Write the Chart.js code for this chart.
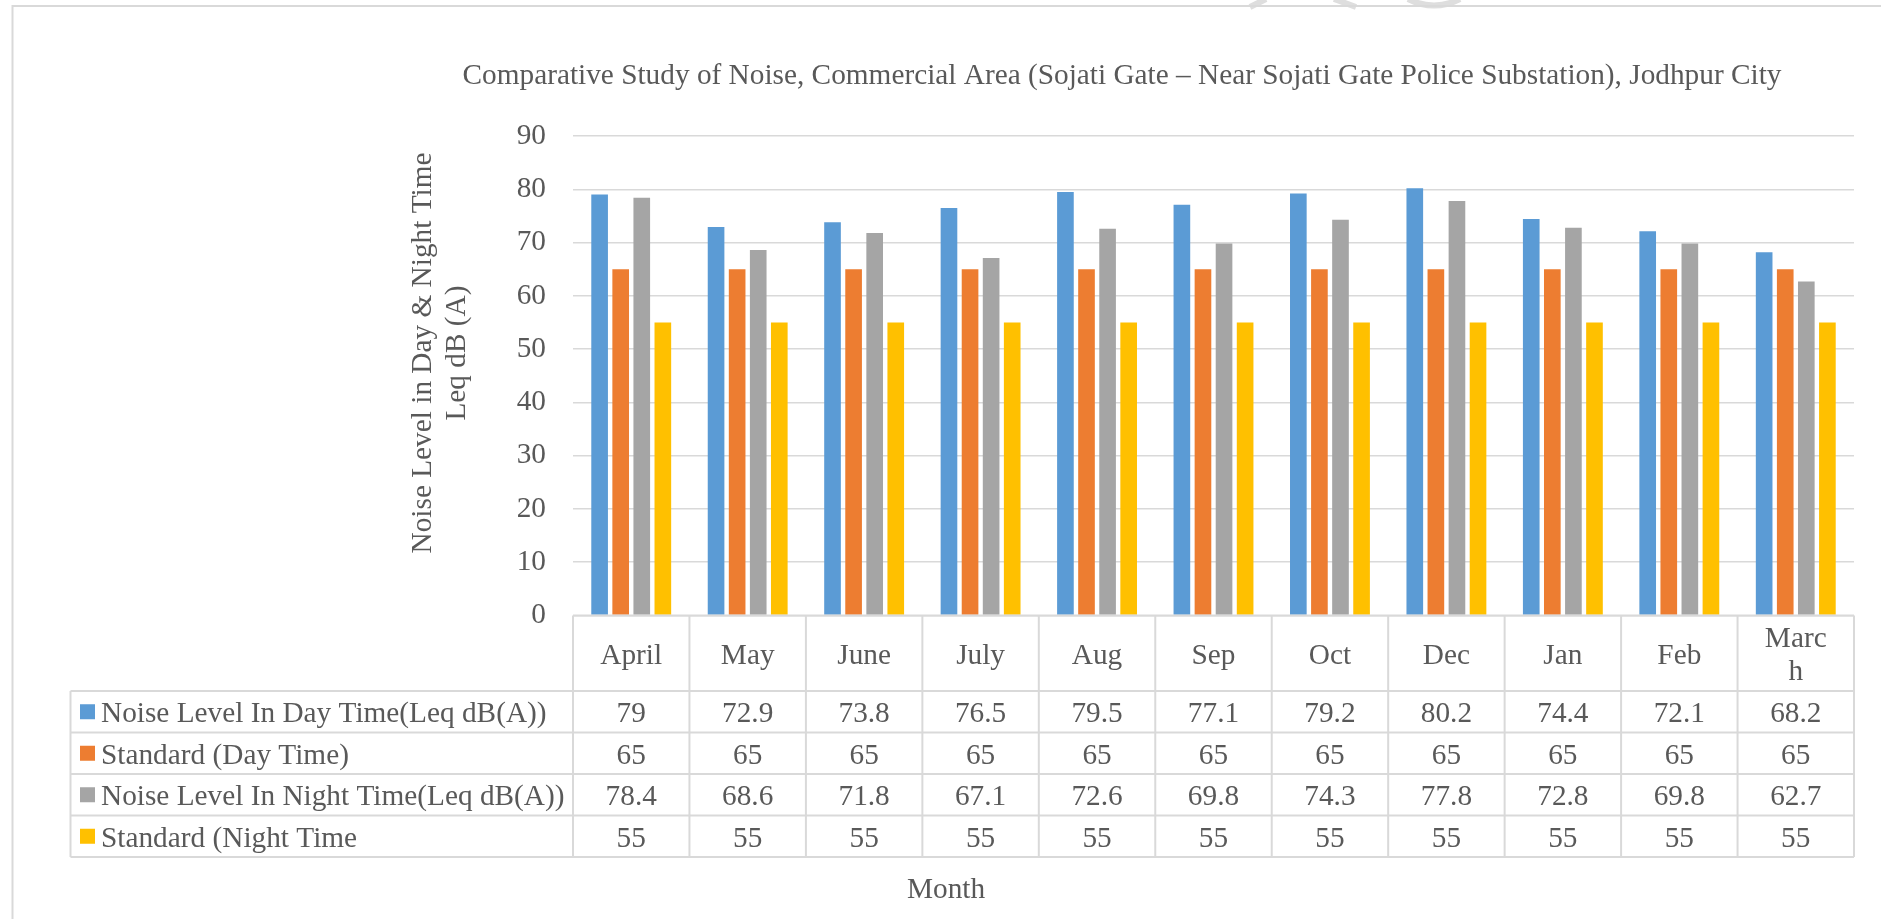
<!DOCTYPE html>
<html>
<head>
<meta charset="utf-8">
<script src="https://cdn.jsdelivr.net/npm/chart.js@4/dist/chart.umd.min.js"></script>
<style>
html,body{margin:0;padding:0;background:#fff;overflow:hidden}
#wrap{position:relative;width:1881px;height:919px}
</style>
</head>
<body>
<div id="wrap"><canvas id="c" width="1881" height="919"></canvas></div>
<script>
// ---- data ----
const months = ['April','May','June','July','Aug','Sep','Oct','Dec','Jan','Feb','March'];
const monthHeaderLines = [['April'],['May'],['June'],['July'],['Aug'],['Sep'],['Oct'],['Dec'],['Jan'],['Feb'],['Marc','h']];
const dayNoise      = [79, 72.9, 73.8, 76.5, 79.5, 77.1, 79.2, 80.2, 74.4, 72.1, 68.2];
const dayStandard   = [65, 65, 65, 65, 65, 65, 65, 65, 65, 65, 65];
const nightNoise    = [78.4, 68.6, 71.8, 67.1, 72.6, 69.8, 74.3, 77.8, 72.8, 69.8, 62.7];
const nightStandard = [55, 55, 55, 55, 55, 55, 55, 55, 55, 55, 55];
const seriesNames = ['Noise Level In Day Time(Leq dB(A))', 'Standard (Day Time)', 'Noise Level In Night Time(Leq dB(A))', 'Standard (Night Time'];
const seriesValues = [dayNoise, dayStandard, nightNoise, nightStandard];
const seriesColors = ['#5B9BD5', '#ED7D31', '#A5A5A5', '#FFC000'];
const yTickValues = [0, 10, 20, 30, 40, 50, 60, 70, 80, 90];
const titleText = 'Comparative Study of Noise, Commercial Area (Sojati Gate \u2013 Near Sojati Gate Police Substation), Jodhpur City';
const yTitleLines = ['Noise Level in Day & Night Time', 'Leq dB (A)'];
const xTitleText = 'Month';

// ---- style ----
const FONT = '"Liberation Serif", "Times New Roman", serif';
const TXT = '#595959';
const GRID = '#d9d9d9';
const FS = 29.3;

const decoPlugin = {
  id: 'deco',
  beforeDraw(chart) {
    const ctx = chart.ctx;
    ctx.save();
    ctx.fillStyle = '#fff';
    ctx.fillRect(0, 0, chart.width, chart.height);
    // faint watermark fragments at top
    ctx.strokeStyle = '#dedede';
    ctx.lineWidth = 6;
    ctx.lineCap = 'butt';
    ctx.beginPath(); ctx.moveTo(1250, 7); ctx.lineTo(1266, -1); ctx.stroke();
    ctx.beginPath(); ctx.moveTo(1334, -1); ctx.lineTo(1356, 7); ctx.stroke();
    ctx.beginPath(); ctx.moveTo(1408, -1); ctx.quadraticCurveTo(1434, 12, 1460, -1); ctx.stroke();
    // outer frame
    ctx.strokeStyle = GRID;
    ctx.lineWidth = 2;
    ctx.beginPath();
    ctx.moveTo(12.5, 919); ctx.lineTo(12.5, 6); ctx.lineTo(1881, 6);
    ctx.stroke();
    ctx.restore();
  },
  afterDraw(chart) {
    const ctx = chart.ctx;
    const xs = chart.scales.x;
    const area = chart.chartArea;
    const n = months.length;
    const step = xs.getPixelForValue(1) - xs.getPixelForValue(0);
    const colLeft = i => xs.getPixelForValue(i) - step / 2;
    const tableLeft = 70.5;
    const headerBottom = 691;
    const rowH = 41.5;
    const tableBottom = headerBottom + rowH * seriesNames.length;
    ctx.save();
    // title
    ctx.fillStyle = TXT;
    ctx.font = FS + 'px ' + FONT;
    ctx.textAlign = 'center';
    ctx.textBaseline = 'alphabetic';
    ctx.fillText(titleText, 1122, 84);
    // y-axis title
    ctx.save();
    ctx.translate(431, 353);
    ctx.rotate(-Math.PI / 2);
    ctx.font = FS + 'px ' + FONT;
    ctx.fillText(yTitleLines[0], 0, 0);
    ctx.fillText(yTitleLines[1], 0, 34);
    ctx.restore();
    // x-axis title
    ctx.font = FS + 'px ' + FONT;
    ctx.fillText(xTitleText, 946, 898);

    // table lines
    ctx.strokeStyle = GRID;
    ctx.lineWidth = 2;
    ctx.beginPath();
    ctx.moveTo(area.left, area.bottom); ctx.lineTo(colLeft(n), area.bottom);
    for (let i = 0; i <= n; i++) {
      const x = colLeft(i);
      ctx.moveTo(x, area.bottom); ctx.lineTo(x, tableBottom);
    }
    for (let r = 0; r <= seriesNames.length; r++) {
      const y = headerBottom + r * rowH;
      ctx.moveTo(tableLeft, y); ctx.lineTo(colLeft(n), y);
    }
    ctx.moveTo(tableLeft, headerBottom); ctx.lineTo(tableLeft, tableBottom);
    ctx.stroke();

    // header month labels
    ctx.fillStyle = TXT;
    ctx.font = FS + 'px ' + FONT;
    ctx.textAlign = 'center';
    for (let i = 0; i < n; i++) {
      const cx = xs.getPixelForValue(i);
      const lines = monthHeaderLines[i];
      lines.forEach((t, k) => {
        ctx.fillText(t, cx, 663.5 + (k - (lines.length - 1) / 2) * 33.3);
      });
    }
    // rows
    for (let r = 0; r < seriesNames.length; r++) {
      const top = headerBottom + r * rowH;
      const base = top + 31;
      ctx.fillStyle = seriesColors[r];
      ctx.fillRect(80, top + rowH / 2 - 7.5, 15, 15);
      ctx.fillStyle = TXT;
      ctx.textAlign = 'left';
      ctx.fillText(seriesNames[r], 101, base);
      ctx.textAlign = 'center';
      for (let i = 0; i < n; i++) {
        ctx.fillText(String(seriesValues[r][i]), xs.getPixelForValue(i), base);
      }
    }
    ctx.restore();
  }
};

new Chart(document.getElementById('c'), {
  type: 'bar',
  data: {
    labels: months,
    datasets: seriesNames.map((name, k) => ({
      label: name,
      data: seriesValues[k],
      backgroundColor: seriesColors[k],
      borderWidth: 0,
      categoryPercentage: 0.724,
      barPercentage: 0.79
    }))
  },
  options: {
    responsive: false,
    animation: false,
    devicePixelRatio: 1,
    layout: { padding: { left: 0, right: 27, top: 136, bottom: 303.5 } },
    plugins: { legend: { display: false }, title: { display: false }, tooltip: { enabled: false } },
    scales: {
      x: { display: false },
      y: {
        min: 0, max: 90,
        afterFit: s => { s.width = 573; },
        afterBuildTicks: s => { s.ticks = yTickValues.map(v => ({ value: v })); },
        border: { display: false },
        grid: { color: GRID, lineWidth: 1.5, drawTicks: false },
        ticks: { padding: 27, color: TXT, font: { family: FONT, size: FS } }
      }
    }
  },
  plugins: [decoPlugin]
});
</script>
</body>
</html>
